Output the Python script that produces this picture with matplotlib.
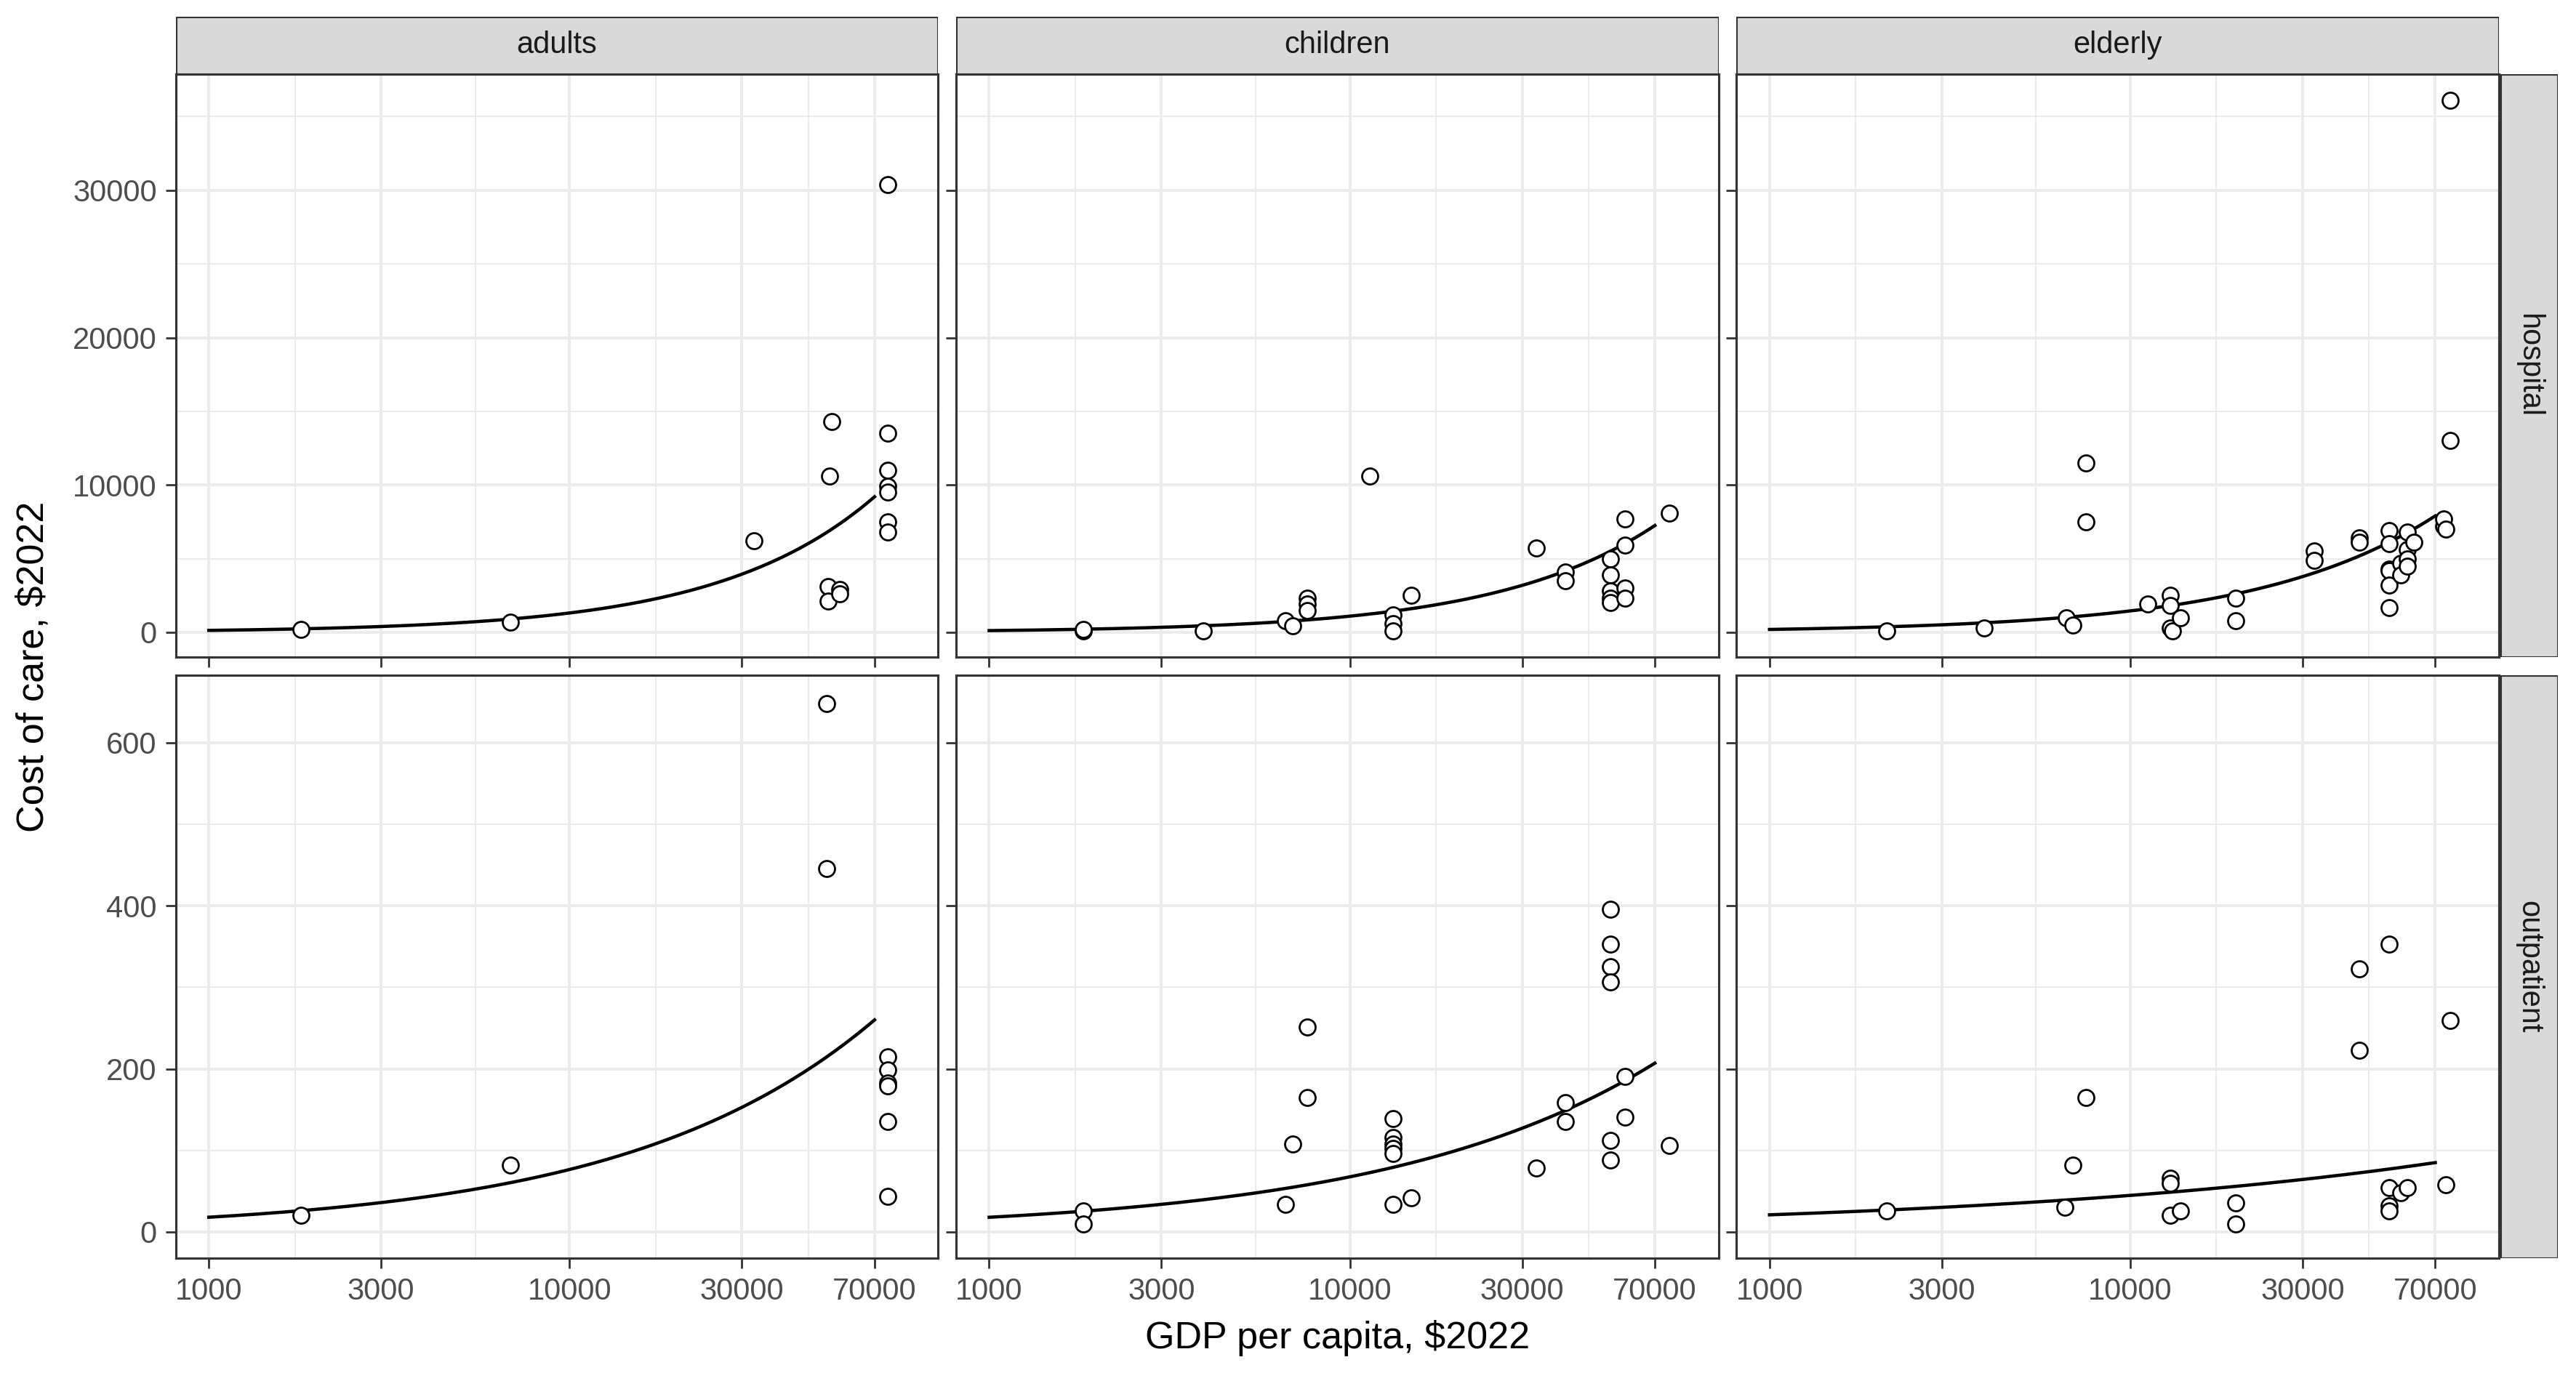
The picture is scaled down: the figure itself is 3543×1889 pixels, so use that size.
import numpy as np
import matplotlib.pyplot as plt
from matplotlib.patches import Rectangle

plt.rcParams['font.family'] = ['Liberation Sans', 'DejaVu Sans']

ages = ['adults', 'children', 'elderly']
settings = ['hospital', 'outpatient']

# points per panel: (gdp, cost)
adults_hosp_g = [1800, 6850, 32400, 53200, 52600, 52000, 52000, 56000, 56000, 76000, 76000, 76000, 76000, 76000, 76000, 76000]
adults_hosp_y = [200, 700, 6200, 14300, 10600, 3100, 2100, 2900, 2600, 30400, 13500, 11000, 9900, 9500, 7500, 6800]
adults_out_g = [1800, 6850, 51500, 51500, 76000, 76000, 76000, 76000, 76000, 76000]
adults_out_y = [20, 82, 648, 446, 215, 199, 183, 179, 135, 44]

child_hosp_g = [1820, 1820, 3930, 6640, 6930, 7600, 7600, 7600, 11340, 13150, 13150, 13150, 14750, 32800,
                39600, 39600, 52600, 52600, 52600, 52600, 52600, 57800, 57800, 57800, 57800, 76900]
child_hosp_y = [100, 200, 100, 800, 450, 2300, 1900, 1500, 10600, 1200, 600, 100, 2500, 5700,
                4100, 3500, 5000, 3900, 2800, 2300, 2000, 7700, 5900, 3000, 2300, 8100]
child_out_g = [1820, 1820, 6640, 6930, 7600, 7600, 13150, 13150, 13150, 13150, 13150, 13150, 14750, 32800,
               39600, 39600, 52600, 52600, 52600, 52600, 52600, 52600, 57800, 57800, 76900]
child_out_y = [26, 10, 34, 108, 251, 165, 139, 116, 108, 102, 96, 34, 42, 78,
               159, 135, 396, 353, 325, 307, 112, 88, 191, 141, 106]

eld_hosp_g = [2110, 3930, 6640, 6930, 7530, 7530, 11200, 12900, 12900, 12900, 13100, 13800, 19600, 19600,
              32400, 32400, 43100, 43100, 52100, 52100, 52100, 52100, 52100, 52100, 56100, 56100,
              58500, 58500, 58500, 58500, 61000, 73800, 73800, 75000, 77000, 77000]
eld_hosp_y = [100, 300, 1000, 500, 11500, 7500, 1900, 2500, 1800, 300, 100, 1000, 2300, 800,
              5500, 4900, 6400, 6100, 6900, 6000, 4300, 4200, 3200, 1700, 4700, 3900,
              6800, 5600, 5000, 4500, 6100, 7200, 7700, 7000, 36100, 13000]
eld_out_g = [2110, 6600, 6930, 7530, 12900, 12900, 12900, 13800, 19600, 19600, 43100, 43100,
             52100, 52100, 52100, 52100, 56100, 58500, 77000, 75000]
eld_out_y = [26, 30, 82, 165, 66, 60, 20, 26, 36, 10, 323, 223,
             353, 54, 32, 26, 48, 54, 259, 58]

points = {
    ('adults', 'hospital'): (adults_hosp_g, adults_hosp_y),
    ('adults', 'outpatient'): (adults_out_g, adults_out_y),
    ('children', 'hospital'): (child_hosp_g, child_hosp_y),
    ('children', 'outpatient'): (child_out_g, child_out_y),
    ('elderly', 'hospital'): (eld_hosp_g, eld_hosp_y),
    ('elderly', 'outpatient'): (eld_out_g, eld_out_y),
}

# fitted power-law curves: cost at gdp=70000 and exponent
fit_at_70k = {('adults', 'hospital'): 9200, ('adults', 'outpatient'): 260,
              ('children', 'hospital'): 7250, ('children', 'outpatient'): 207,
              ('elderly', 'hospital'): 7900, ('elderly', 'outpatient'): 85}
fit_exp = {('adults', 'hospital'): 1.0, ('adults', 'outpatient'): 0.628,
           ('children', 'hospital'): 0.97, ('children', 'outpatient'): 0.575,
           ('elderly', 'hospital'): 0.87, ('elderly', 'outpatient'): 0.329}

xticks = [1000, 3000, 10000, 30000, 70000]
yticks = {'hospital': [0, 10000, 20000, 30000], 'outpatient': [0, 200, 400, 600]}
yminor = {'hospital': [5000, 15000, 25000, 35000], 'outpatient': [100, 300, 500]}
ylims = {'hospital': (-1670, 37900), 'outpatient': (-32, 683)}

fig = plt.figure(figsize=(14.172, 7.556), dpi=250)
W, H = 1568, 836
lefts = [107, 582, 1057]
pw = 464
tops = [45, 411]
ph = 355
xminor = [np.sqrt(a * b) for a, b in zip(xticks[:-1], xticks[1:])]

for r, s in enumerate(settings):
    for c, a in enumerate(ages):
        ax = fig.add_axes([lefts[c] / W, 1 - (tops[r] + ph) / H, pw / W, ph / H])
        ax.set_xscale('log')
        ax.set_xlim(810, 105000)
        ax.set_ylim(*ylims[s])
        for v in xticks:
            ax.axvline(v, color='#ebebeb', lw=1.1, zorder=0)
        for v in xminor:
            ax.axvline(v, color='#ebebeb', lw=0.55, zorder=0)
        for v in yticks[s]:
            ax.axhline(v, color='#ebebeb', lw=1.1, zorder=0)
        for v in yminor[s]:
            ax.axhline(v, color='#ebebeb', lw=0.55, zorder=0)
        g, y = points[(a, s)]
        ax.scatter(g, y, s=40, facecolors='white', edgecolors='black', linewidths=0.8, zorder=3)
        gx = np.geomspace(1000, 70000, 200)
        b = fit_exp[(a, s)]
        ax.plot(gx, fit_at_70k[(a, s)] * (gx / 70000) ** b, color='black', lw=1.3, zorder=2)
        ax.set_xticks(xticks)
        ax.set_xticks([], minor=True)
        ax.set_yticks(yticks[s])
        if r == 1:
            ax.set_xticklabels([str(v) for v in xticks])
        else:
            ax.set_xticklabels([])
        if c == 0:
            ax.set_yticklabels([str(v) for v in yticks[s]])
        else:
            ax.set_yticklabels([])
        ax.tick_params(labelsize=12, colors='#333333', length=4, width=0.8, labelcolor='#4d4d4d')
        for sp in ax.spines.values():
            sp.set_color('#333333')
            sp.set_linewidth(0.9)
        if r == 0:
            sax = fig.add_axes([lefts[c] / W, 1 - tops[r] / H, pw / W, 35 / H])
            sax.add_patch(Rectangle((0, 0), 1, 1, facecolor='#d9d9d9', edgecolor='#333333', lw=0.9,
                                    transform=sax.transAxes))
            sax.text(0.5, 0.5, a, ha='center', va='center', fontsize=12, color='#1a1a1a')
            sax.axis('off')
        if c == 2:
            sax = fig.add_axes([(lefts[c] + pw + 1) / W, 1 - (tops[r] + ph) / H, 35 / W, ph / H])
            sax.add_patch(Rectangle((0, 0), 1, 1, facecolor='#d9d9d9', edgecolor='#333333', lw=0.9,
                                    transform=sax.transAxes))
            sax.text(0.5, 0.5, s, ha='center', va='center', rotation=-90, fontsize=12, color='#1a1a1a')
            sax.axis('off')

fig.text((lefts[0] + lefts[2] + pw) / 2 / W, 0.012, 'GDP per capita, $2022', ha='center', va='bottom', fontsize=15)
fig.text(0.006, 1 - (45 + 767) / 2 / H, 'Cost of care, $2022', rotation=90, ha='left', va='center', fontsize=15)

fig.savefig('out.png', dpi=250)
